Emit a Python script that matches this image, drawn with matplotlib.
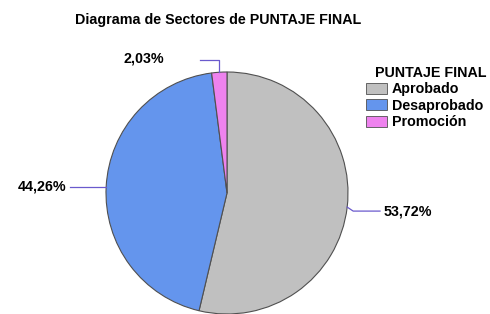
import numpy as np
import matplotlib
matplotlib.use("Agg")
import matplotlib.pyplot as plt
from matplotlib.patches import Patch

# --- data
categories = ['Aprobado', 'Desaprobado', 'Promoción']
percent = [53.72, 44.26, 2.03]
labels = ['53,72%', '44,26%', '2,03%']
colors = ['#c0c0c0', '#6495ed', '#ee82ee']

plt.rcParams['font.family'] = ['Liberation Sans', 'DejaVu Sans']

W, H = 490, 314
FS = 10.3
fig = plt.figure(figsize=(W / 100, H / 100), dpi=100)
ax = fig.add_axes([0, 0, 1, 1])

cx, cy, r = 227, H - 193, 121
wedges, _ = ax.pie(percent, colors=colors, startangle=90, counterclock=False,
                   center=(cx, cy), radius=r, frame=True,
                   wedgeprops=dict(edgecolor='#505050', linewidth=0.8))
ax.set_xlim(0, W)
ax.set_ylim(0, H)
ax.set_aspect('equal')
ax.axis('off')

# --- leader lines and percent labels
line_kw = dict(color='#6a5acd', lw=0.9)
txt_kw = dict(fontsize=FS, fontweight='bold', va='center')
for w, lab in zip(wedges, labels):
    ang = np.deg2rad((w.theta1 + w.theta2) / 2)
    px, py = cx + r * np.cos(ang), cy + r * np.sin(ang)
    if np.cos(ang) > 0.5:
        ax.plot([px, px + 6, 380], [py, py - 4, py - 4], **line_kw)
        ax.text(384, py - 4, lab, ha='left', **txt_kw)
    elif np.cos(ang) < -0.5:
        ax.plot([px, 70], [py, py], **line_kw)
        ax.text(66, py, lab, ha='right', **txt_kw)
    else:
        ax.plot([px, px, 200], [py, py + 12, py + 12], **line_kw)
        ax.text(164, py + 14, lab, ha='right', **txt_kw)

ax.text(75, H - 20, 'Diagrama de Sectores de PUNTAJE FINAL', fontsize=FS,
        fontweight='bold', va='center', ha='left')

# --- legend
ax.text(375, H - 73, 'PUNTAJE FINAL', fontsize=FS, fontweight='bold',
        va='center', ha='left')
handles = [Patch(facecolor=c, edgecolor='#505050', linewidth=0.6) for c in colors]
ax.legend(handles, categories, loc='upper left',
          bbox_to_anchor=(366 / W, 1 - 82.5 / H), frameon=False,
          prop=dict(size=FS, weight='bold'), handlelength=1.5,
          handleheight=0.8, handletextpad=0.3, labelspacing=0.16,
          borderpad=0, borderaxespad=0)

fig.savefig('out.png', dpi=100)
